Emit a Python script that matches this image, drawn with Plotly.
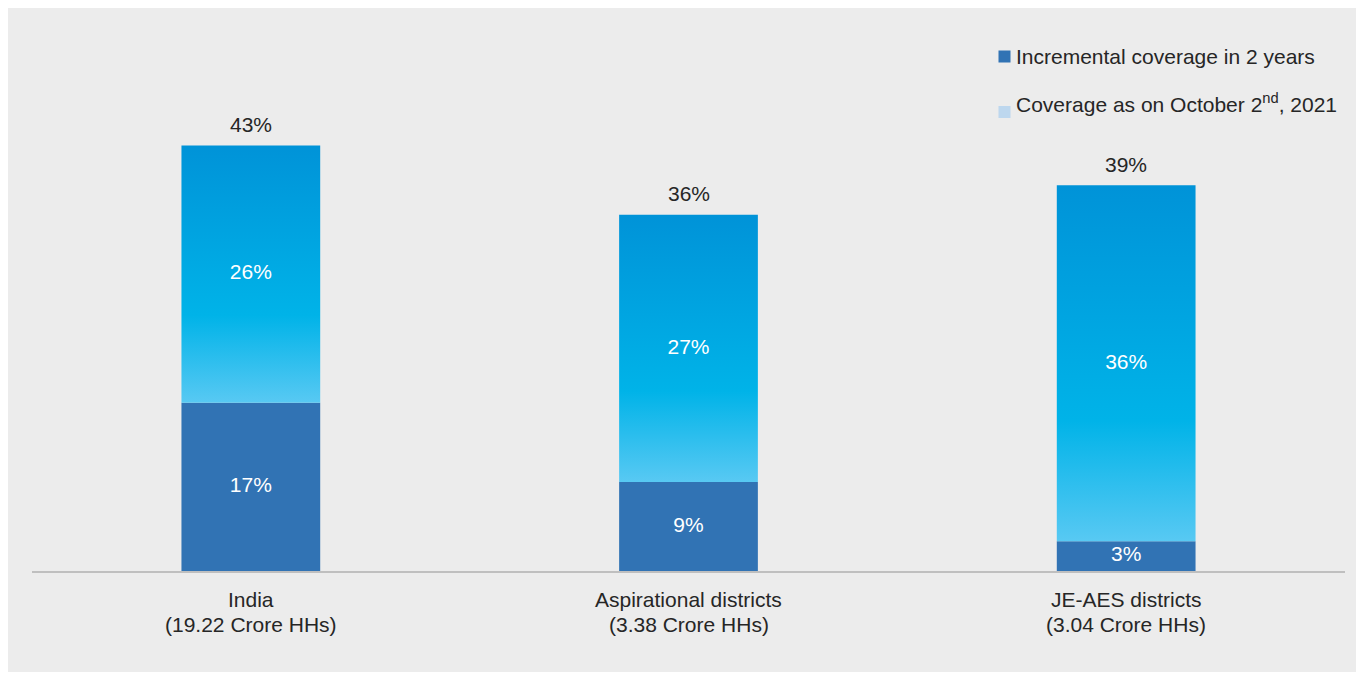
import plotly.graph_objects as go

# ---- data -------------------------------------------------------------
cat_names = ["India", "Aspirational districts", "JE-AES districts"]
cat_households = ["(19.22 Crore HHs)", "(3.38 Crore HHs)", "(3.04 Crore HHs)"]
base_pct = [17, 9, 3]        # lower (dark) segment
added_pct = [26, 27, 36]     # upper (gradient) segment
total_pct = [43, 36, 39]     # label above each column

legend_labels = ["Incremental coverage in 2 years", "Coverage as on October 2<sup>nd</sup>, 2021"]

# ---- styling ----------------------------------------------------------
W, H = 1356, 673
M_L, M_R, M_T, M_B = 32, 11, 17, 102
PLOT_W = W - M_L - M_R
PLOT_H = H - M_T - M_B
Y_MAX = 56

FONT = "Liberation Sans, Arial, sans-serif"
TXT = "#262626"
DARK = "#3173b4"
LIGHT_KEY = "#bdd7ee"
GRAD = [[0.0, "#58c9f3"], [0.34, "#00b3e8"], [1.0, "#0093d8"]]
BAR_W = 0.317


def px_x(px):
    return (px - M_L) / PLOT_W


def px_y(py):
    return (H - M_B - py) / PLOT_H


xpos = list(range(len(cat_names)))

fig = go.Figure()

# lower segment
fig.add_trace(go.Bar(
    x=xpos, y=base_pct, width=BAR_W,
    marker=dict(color=DARK, line=dict(width=0)),
    hoverinfo="skip", showlegend=False,
))

# upper segment with vertical gradient, one filled outline per column
for i, (b, a) in enumerate(zip(base_pct, added_pct)):
    x0, x1 = i - BAR_W / 2, i + BAR_W / 2
    fig.add_trace(go.Scatter(
        x=[x0, x1, x1, x0, x0],
        y=[b, b, b + a, b + a, b],
        mode="lines", fill="toself", line=dict(width=0),
        fillgradient=dict(type="vertical", colorscale=GRAD),
        hoverinfo="skip", showlegend=False,
    ))

# segment labels
fig.add_trace(go.Scatter(
    x=xpos, y=[b / 2 for b in base_pct], mode="text",
    text=[f"{v}%" for v in base_pct],
    textfont=dict(family=FONT, size=21, color="white"),
    hoverinfo="skip", showlegend=False,
))
fig.add_trace(go.Scatter(
    x=xpos, y=[b + a / 2 for b, a in zip(base_pct, added_pct)], mode="text",
    text=[f"{v}%" for v in added_pct],
    textfont=dict(family=FONT, size=21, color="white"),
    hoverinfo="skip", showlegend=False,
))

shapes = [
    # grey panel behind the whole chart
    dict(type="rect", xref="paper", yref="paper", layer="below",
         x0=px_x(8), x1=px_x(W), y0=px_y(672), y1=px_y(8),
         fillcolor="#ececec", line=dict(width=0)),
]
annotations = []

# column totals
for i, v in zip(xpos, total_pct):
    annotations.append(dict(x=i, y=v, xref="x", yref="y", yanchor="middle",
                            yshift=21, showarrow=False, text=f"{v}%",
                            font=dict(family=FONT, size=21, color=TXT)))

# category labels (two lines under the axis)
for i, (n, hh) in enumerate(zip(cat_names, cat_households)):
    for txt, py in ((n, 599), (hh, 624)):
        annotations.append(dict(x=i, xref="x", y=px_y(py), yref="paper",
                                yanchor="middle", showarrow=False, text=txt,
                                font=dict(family=FONT, size=21, color=TXT)))

# key
key_rows = [(56.5, DARK), (112, LIGHT_KEY)]
text_rows = [56.7, 103.3]
for (sq_cy, col), ty, lab in zip(key_rows, text_rows, legend_labels):
    shapes.append(dict(type="rect", xref="paper", yref="paper",
                       x0=px_x(998.5), x1=px_x(1010.5),
                       y0=px_y(sq_cy + 6), y1=px_y(sq_cy - 6),
                       fillcolor=col, line=dict(width=0)))
    annotations.append(dict(xref="paper", yref="paper", x=px_x(1014), y=px_y(ty),
                            xanchor="left", yanchor="middle", showarrow=False,
                            text=lab, font=dict(family=FONT, size=21, color=TXT)))

fig.update_layout(
    width=W, height=H,
    margin=dict(l=M_L, r=M_R, t=M_T, b=M_B),
    paper_bgcolor="white", plot_bgcolor="rgba(0,0,0,0)",
    barmode="overlay",
    shapes=shapes, annotations=annotations,
    font=dict(family=FONT, size=21, color=TXT),
    xaxis=dict(range=[-0.5, len(cat_names) - 0.5], tickvals=xpos,
               showticklabels=False,
               showline=True, linecolor="#bfbfbf", linewidth=2,
               showgrid=False, zeroline=False, ticks="", fixedrange=True),
    yaxis=dict(range=[0, Y_MAX], visible=False, fixedrange=True),
)

fig.write_html("out.html", config=dict(displayModeBar=False))
